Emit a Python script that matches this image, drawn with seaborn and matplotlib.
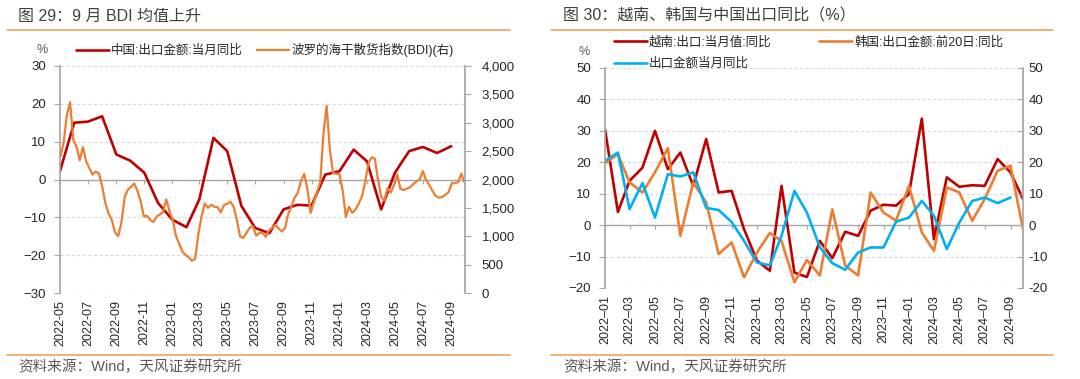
import pandas as pd
import matplotlib
matplotlib.use("Agg")
import matplotlib.pyplot as plt
import matplotlib.dates as mdates
import matplotlib.ticker as mticker
from matplotlib.lines import Line2D
import seaborn as sns

sns.set_theme(style="white")
plt.rcParams["font.family"] = ["Liberation Sans", "Noto Sans CJK SC"]
plt.rcParams["axes.unicode_minus"] = True

# ── Colours ───────────────────────────────────────────────────────────────────
RED, ORANGE, BLUE = "#C00000", "#ED7D31", "#00B0F0"
GRID, AXIS = "#D9D9D9", "#A6A6A6"
TEXT, TITLE, NOTE, RULE = "#262626", "#404040", "#595959", "#F4A15A"

# ── Data: figure 29 ───────────────────────────────────────────────────────────
cn_months = pd.date_range("2022-05-01", "2024-09-01", freq="MS")
cn_export_yoy = [2.2, 15.0, 15.3, 16.7, 6.6, 5.0, 1.8, -6.2, -10.6, -12.6,
                 -5.3, 11.0, 7.5, -7.0, -12.8, -14.2, -7.9, -6.7, -6.9, 1.3,
                 2.2, 7.9, 4.8, -7.9, 1.8, 7.5, 8.6, 7.0, 8.8]

bdi_weekly = [2411, 2650, 3140, 3360, 2700, 2580, 2340, 2570, 2320, 2200,
              2088, 2140, 2110, 1880, 1585, 1400, 1290, 1070, 1000, 1240,
              1680, 1820, 1870, 1930, 1800, 1620, 1350, 1360, 1290, 1250,
              1350, 1385, 1430, 1650, 1440, 1290, 1010, 870, 730, 670,
              630, 570, 600, 1040, 1350, 1580, 1500, 1555, 1520, 1510,
              1420, 1550, 1570, 1610, 1520, 1290, 1000, 970, 1060, 1150,
              1180, 1010, 1060, 1060, 990, 1100, 1148, 1200, 1140, 1085,
              1140, 1390, 1520, 1680, 1765, 1975, 2100, 1830, 1410, 1600,
              1780, 1950, 2800, 3300, 2530, 2110, 2100, 2095, 1800, 1340,
              1520, 1413, 1470, 1575, 1700, 1950, 2280, 2390, 2370, 2010,
              1700, 1630, 1850, 1770, 1900, 2090, 1835, 1815, 1840, 1860,
              1920, 1965, 2000, 2150, 1990, 1905, 1800, 1710, 1680, 1690,
              1730, 1775, 1925, 1940, 1950, 2105, 1950]
bdi_dates = pd.date_range("2022-05-02", periods=len(bdi_weekly), freq="7D")

# ── Data: figure 30 ───────────────────────────────────────────────────────────
r_months = pd.date_range("2022-01-01", "2024-10-01", freq="MS")
vn_export_yoy = [30.5, 4.2, 14.1, 18.3, 30.0, 17.8, 23.1, 12.5, 27.4, 10.4,
                 10.9, -1.3, -11.3, -14.5, 12.5, -15.1, -16.5, -5.0, -10.5, -2.1,
                 -3.4, 4.6, 6.5, 6.2, 9.9, 33.9, -4.5, 15.2, 12.2, 12.7,
                 12.5, 21.0, 16.8, 8.3]
kr_export_20d_yoy = [19.7, 22.6, 13.6, 10.4, 16.8, 24.5, -3.4, 13.6, 7.2, -9.2,
                     -5.5, -16.6, -8.7, -2.5, -5.0, -18.2, -11.1, -16.0, 5.0, -12.9,
                     -16.0, 10.4, 4.0, 1.4, 12.5, -2.3, -8.2, 12.0, 10.4, 1.4,
                     8.3, 17.3, 18.9, -1.3]
cn_export_yoy_r = [20.5, 23.1, 5.1, 13.4, 2.4, 16.2, 15.5, 16.8, 5.5, 4.8,
                   1.0, -5.0, -11.9, -12.8, -3.4, 10.9, 4.0, -7.0, -12.1, -14.2,
                   -8.7, -7.1, -7.1, 1.1, 2.4, 7.7, 3.0, -7.6, 0.8, 7.7,
                   8.8, 7.0, 8.8]

W, H = 1080, 379
fig = plt.figure(figsize=(W / 100, H / 100), dpi=100)


def fx(px):
    return px / W


def fy(py):
    return 1 - py / H


def style_panel(ax, ylim, step, zero_frac, date_fmt):
    ax.set_ylim(*ylim)
    ax.set_yticks(range(ylim[0], ylim[1] + 1, step))
    ax.yaxis.grid(True, color=GRID, linestyle=(0, (3, 2)), linewidth=0.8)
    ax.set_axisbelow(True)
    for s in ["top", "bottom", "right"]:
        ax.spines[s].set_visible(False)
    ax.spines["left"].set_color(AXIS)
    ax.tick_params(axis="y", direction="out", length=4, color=AXIS, width=0.8,
                   pad=6, labelsize=9.5, labelcolor=TEXT, left=True)
    ax.xaxis.set_major_locator(mdates.MonthLocator(bymonth=[1, 3, 5, 7, 9, 11]))
    ax.xaxis.set_major_formatter(mdates.DateFormatter(date_fmt))
    ax.tick_params(axis="x", length=0, pad=5, labelsize=9, labelcolor=TEXT,
                   labelrotation=90)
    ax.axhline(0, color=AXIS, linewidth=1.0, zorder=1)
    # small tick marks hanging off the zero line
    sec = ax.secondary_xaxis(zero_frac)
    sec.xaxis.set_major_locator(mdates.MonthLocator(bymonth=[1, 3, 5, 7, 9, 11]))
    sec.xaxis.set_major_formatter(mticker.NullFormatter())
    for sp in sec.spines.values():
        sp.set_visible(False)
    sec.tick_params(axis="x", direction="out", length=3, color=AXIS, width=0.8,
                    bottom=True, top=False)
    ax.set_xlabel("")
    ax.set_ylabel("")


# ── Figure 29 ─────────────────────────────────────────────────────────────────
ax1 = fig.add_axes([fx(60), fy(293), fx(405), 227 / H])
sns.lineplot(x=cn_months, y=cn_export_yoy, ax=ax1, color=RED, linewidth=1.9,
             label="中国:出口金额:当月同比", legend=False)
ax1.set_xlim(pd.Timestamp("2022-05-01"), pd.Timestamp("2024-10-01"))
style_panel(ax1, (-30, 30), 10, 0.5, "%Y-%m")

ax2 = ax1.twinx()
sns.lineplot(x=bdi_dates, y=bdi_weekly, ax=ax2, color=ORANGE, linewidth=1.6,
             label="波罗的海干散货指数(BDI)(右)", legend=False)
ax2.set_ylim(0, 4000)
ax2.set_yticks(range(0, 4001, 500))
ax2.yaxis.set_major_formatter(mticker.FuncFormatter(lambda v, _: f"{int(v):,}"))
for s in ["top", "bottom", "left"]:
    ax2.spines[s].set_visible(False)
ax2.spines["right"].set_color(AXIS)
ax2.tick_params(axis="y", direction="out", length=4, color=AXIS, width=0.8,
                pad=8, labelsize=9.5, labelcolor=TEXT, right=True)
ax2.set_ylabel("")
ax2.grid(False)

fig.legend(handles=[ax1.lines[0], ax2.lines[0]], loc="center left",
           bbox_to_anchor=(fx(76), fy(50)), ncol=2, frameon=False, fontsize=9,
           handlelength=2.6, handletextpad=0.2, columnspacing=1.1,
           borderpad=0, borderaxespad=0, labelcolor=TEXT)
fig.text(fx(42), fy(50), "%", ha="center", va="center", fontsize=9, color=NOTE)

# ── Figure 30 ─────────────────────────────────────────────────────────────────
ax3 = fig.add_axes([fx(605), fy(288), fx(418), 220 / H])
sns.lineplot(x=r_months, y=vn_export_yoy, ax=ax3, color=RED, linewidth=1.9,
             label="越南:出口:当月值:同比", legend=False)
sns.lineplot(x=r_months, y=kr_export_20d_yoy, ax=ax3, color=ORANGE, linewidth=1.9,
             label="韩国:出口金额:前20日:同比", legend=False)
sns.lineplot(x=r_months[:len(cn_export_yoy_r)], y=cn_export_yoy_r, ax=ax3,
             color=BLUE, linewidth=1.9, label="出口金额当月同比", legend=False)
ax3.set_xlim(pd.Timestamp("2022-01-01"), pd.Timestamp("2024-10-01"))
style_panel(ax3, (-20, 50), 10, 20 / 70, "%Y–%m")

ax4 = ax3.twinx()
ax4.set_ylim(-20, 50)
ax4.set_yticks(range(-20, 51, 10))
ax4.yaxis.set_major_formatter(mticker.FuncFormatter(lambda v, _: f"{int(v)}"))
for s in ["top", "bottom", "left"]:
    ax4.spines[s].set_visible(False)
ax4.spines["right"].set_color(AXIS)
ax4.tick_params(axis="y", direction="in", length=4, color=AXIS, width=0.8,
                pad=4, labelsize=9.5, labelcolor=TEXT, right=True)
ax4.grid(False)

fig.legend(handles=[ax3.lines[0], ax3.lines[2], ax3.lines[1]], loc="upper left",
           bbox_to_anchor=(fx(614), fy(36)), ncol=2, frameon=False, fontsize=9,
           handlelength=2.6, handletextpad=0.2, columnspacing=3.8,
           labelspacing=0.75, borderpad=0, borderaxespad=0, labelcolor=TEXT)
fig.text(fx(584), fy(52), "%", ha="center", va="center", fontsize=9, color=NOTE)

# ── Titles, rules, sources ────────────────────────────────────────────────────
fig.text(fx(18), fy(16), "图 29：9 月 BDI 均值上升", fontsize=11.5, color=TITLE,
         va="center")
fig.text(fx(563), fy(16), "图 30：越南、韩国与中国出口同比（%）", fontsize=11.5,
         color=TITLE, va="center")
for x0, x1 in [(7, 510), (551, 1053)]:
    fig.add_artist(Line2D([fx(x0), fx(x1)], [fy(30), fy(30)], color=RULE, lw=1.2))
    fig.add_artist(Line2D([fx(x0), fx(x1)], [fy(355), fy(355)], color=RULE, lw=1.2))
fig.text(fx(18), fy(367), "资料来源：Wind，天风证券研究所", fontsize=10.5,
         color=NOTE, va="center")
fig.text(fx(563), fy(367), "资料来源：Wind，天风证券研究所", fontsize=10.5,
         color=NOTE, va="center")

fig.savefig("out.png", dpi=100)
plt.close(fig)
